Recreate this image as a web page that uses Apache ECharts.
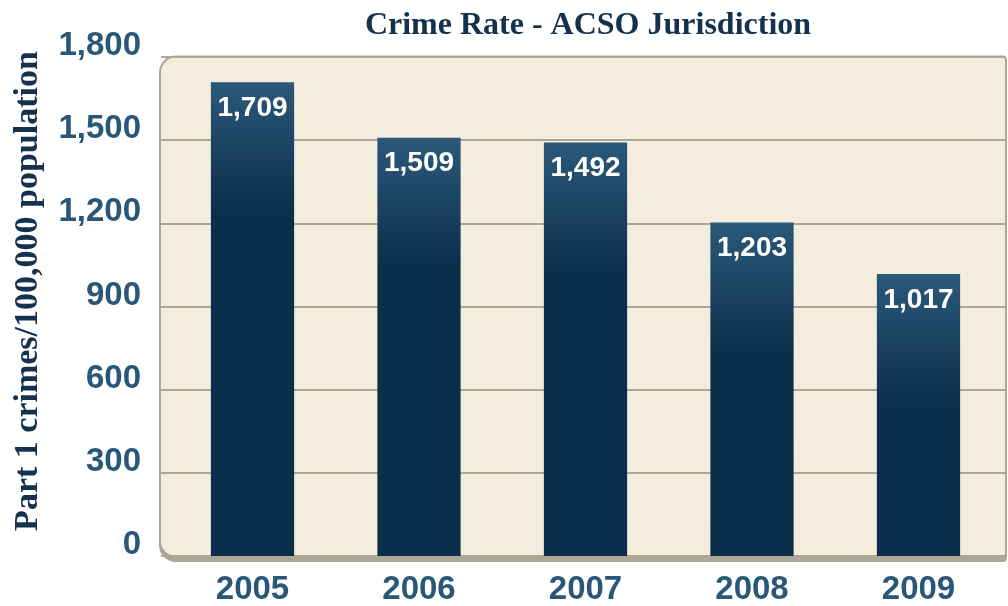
<!DOCTYPE html>
<html><head><meta charset="utf-8">
<script src="https://cdn.jsdelivr.net/npm/echarts@6/dist/echarts.min.js"></script>
<style>html,body{margin:0;padding:0;background:#fff}#c{width:1008px;height:606px}</style>
</head><body><div id="c"></div>
<script>
// ---- data ----
const years = ['2005', '2006', '2007', '2008', '2009'];
const crimeRates = [1709, 1509, 1492, 1203, 1017];
const yTicks = [0, 300, 600, 900, 1200, 1500, 1800];
const titleText = 'Crime Rate - ACSO Jurisdiction';
const yAxisTitle = 'Part 1 crimes/100,000 population';

// ---- layout / style ----
const W = 1008, H = 606;
const gridTop = 57, gridBottom = 50;
const plotH = H - gridTop - gridBottom;
const yMin = yTicks[0], yMax = yTicks[yTicks.length - 1], yStep = yTicks[1] - yTicks[0];
const sans = '"Liberation Sans Narrow", "Liberation Sans", Arial, sans-serif';
const serif = '"Liberation Serif", "DejaVu Serif", serif';
const labelBlue = '#285777';
const navy = '#14324d';

function barGradient(v) {
  const hPx = v / yMax * plotH;
  const s = Math.min(0.99, 130 / hPx);
  return new echarts.graphic.LinearGradient(0, 0, 0, 1, [
    { offset: 0, color: '#2b5979' },
    { offset: s, color: '#0b2e4b' },
    { offset: 1, color: '#0a2d49' }
  ]);
}
const fmt = v => v.toLocaleString('en-US');

const chart = echarts.init(document.getElementById('c'), null, { renderer: 'canvas' });
chart.setOption({
  animation: false,
  backgroundColor: '#ffffff',
  title: {
    text: titleText,
    left: 583, top: 3, textAlign: 'center',
    textStyle: { fontFamily: serif, fontWeight: 'bold', fontSize: 32, color: navy, lineHeight: 36 }
  },
  graphic: {
    elements: [
      { type: 'rect', z: -10, silent: true,
        shape: { x: 159, y: 55.5, width: 848, height: 506.5, r: [17, 4, 4, 17] },
        style: { fill: '#aca896' } },
      { type: 'rect', z: -9, silent: true,
        shape: { x: 161, y: 57.5, width: 844, height: 498.5, r: [15, 3, 3, 15] },
        style: { fill: '#f4ecdd' } },
      { type: 'text', z: 5, silent: true, x: 28, y: 291, rotation: Math.PI / 2,
        style: { text: yAxisTitle, fill: navy, font: 'bold 34px ' + serif,
                 textAlign: 'center', textVerticalAlign: 'middle' } }
    ]
  },
  grid: [
    { left: 161, right: 3, top: gridTop, bottom: gridBottom },
    { left: 169.25, right: 6.25, top: gridTop, bottom: gridBottom }
  ],
  xAxis: [
    { gridIndex: 0, type: 'category', data: years, show: false },
    { gridIndex: 1, type: 'category', data: years,
      axisLine: { show: false }, axisTick: { show: false },
      axisLabel: { margin: 17, color: labelBlue, fontFamily: sans, fontWeight: 'bold',
                   fontSize: 33, lineHeight: 33 } }
  ],
  yAxis: [
    { gridIndex: 0, type: 'value', min: yMin, max: yMax, interval: yStep,
      axisLine: { show: false }, axisTick: { show: false },
      axisLabel: { margin: 20, color: labelBlue, fontFamily: sans, fontWeight: 'bold',
                   fontSize: 33, lineHeight: 22, verticalAlign: 'bottom', formatter: fmt },
      splitLine: { show: true, lineStyle: { color: '#aba795', width: 2 } } },
    { gridIndex: 1, type: 'value', min: yMin, max: yMax, interval: yStep, show: false,
      splitLine: { show: false } }
  ],
  series: [{
    type: 'bar', xAxisIndex: 1, yAxisIndex: 1, barWidth: '50%',
    data: crimeRates.map(v => ({ value: v, itemStyle: { color: barGradient(v) } })),
    label: { show: true, position: 'insideTop', distance: 12, color: '#ffffff',
             fontFamily: sans, fontWeight: 'bold', fontSize: 28, lineHeight: 28,
             formatter: p => fmt(p.value) }
  }]
});
</script></body></html>
